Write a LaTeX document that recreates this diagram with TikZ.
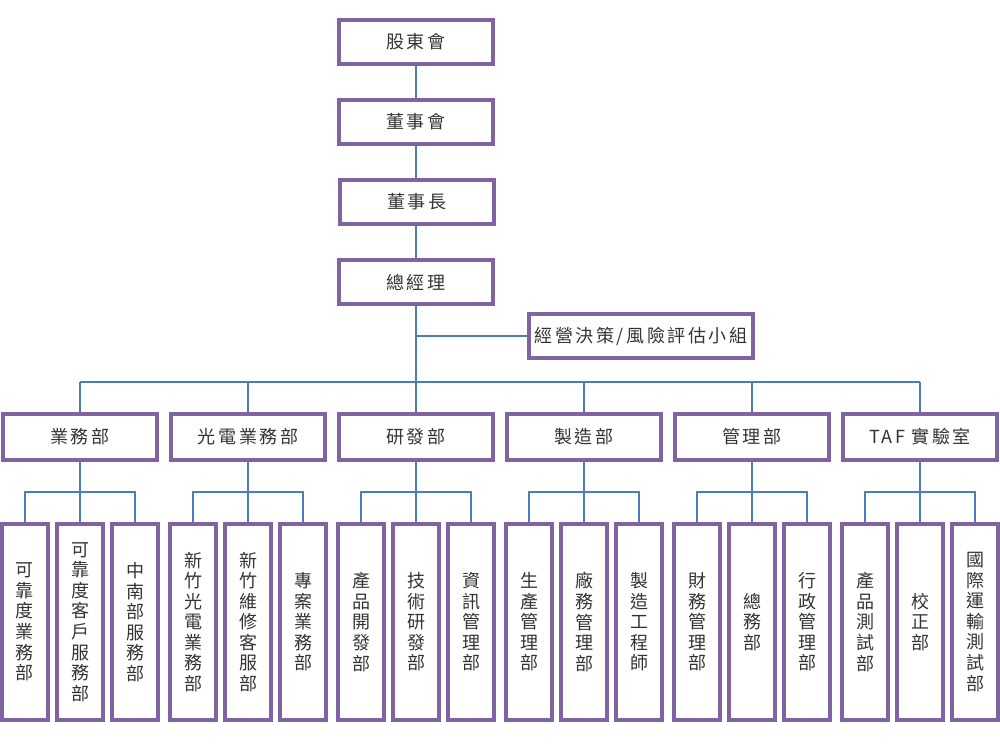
\documentclass[tikz,border=0pt]{standalone}
\usepackage{fontspec}
\setmainfont{Noto Sans CJK TC}[LetterSpace=14]
\definecolor{boxpurple}{HTML}{8064A2}
\definecolor{lineblue}{HTML}{4A7EBB}
\definecolor{textgray}{HTML}{333333}

\begin{document}
\begin{tikzpicture}[x = 0.75pt, y = -0.75pt,
    unit/.style = {draw = boxpurple, line width = 2.8pt, text = textgray, inner sep = 0pt,
      font = \fontsize{13.5}{15.4}\selectfont},
    topbox/.style = {unit, minimum width = 115.5pt, minimum height = 33pt},
    deptbox/.style = {unit, minimum width = 115.5pt, minimum height = 34.5pt},
    subbox/.style = {unit, minimum width = 34pt, minimum height = 147pt, align = center},
    link/.style = {draw = lineblue, line width = 0.8pt}]
          \useasboundingbox (0, 0) rectangle (1000, 750);
          % top of the chart
          \node [topbox] (gudong) at (416, 42) {股東會};
          \node [topbox] (dongshihui) at (416, 122) {董事會};
          \node [topbox] (dongshizhang) at (417, 202) {董事長};
          \node [topbox] (zongjingli) at (416, 282) {總經理};
          \node [topbox, minimum width = 168pt] (xiaozu) at (641, 336) {經營決策/風險評估小組};
          \coordinate (bus) at (416, 382);
          \coordinate (subbus) at (416, 492);
          % departments
          \node [deptbox] (yewu) at (80, 437) {業務部};
          \node [deptbox] (guangdian) at (248, 437) {光電業務部};
          \node [deptbox] (yanfa) at (416, 437) {研發部};
          \node [deptbox] (zhizao) at (584, 437) {製造部};
          \node [deptbox] (guanli) at (752, 437) {管理部};
          \node [deptbox] (taf) at (920, 437) {TAF 實驗室};
          % sections
          \node [subbox] (yewuA) at (25, 622) {可\\靠\\度\\業\\務\\部};
          \node [subbox] (yewuB) at (80, 622) {可\\靠\\度\\客\\戶\\服\\務\\部};
          \node [subbox] (yewuC) at (135, 622) {中\\南\\部\\服\\務\\部};
          \node [subbox] (guangdianA) at (193, 622) {新\\竹\\光\\電\\業\\務\\部};
          \node [subbox] (guangdianB) at (248, 622) {新\\竹\\維\\修\\客\\服\\部};
          \node [subbox] (guangdianC) at (303, 622) {專\\案\\業\\務\\部};
          \node [subbox] (yanfaA) at (361, 622) {產\\品\\開\\發\\部};
          \node [subbox] (yanfaB) at (416, 622) {技\\術\\研\\發\\部};
          \node [subbox] (yanfaC) at (471, 622) {資\\訊\\管\\理\\部};
          \node [subbox] (zhizaoA) at (529, 622) {生\\產\\管\\理\\部};
          \node [subbox] (zhizaoB) at (584, 622) {廠\\務\\管\\理\\部};
          \node [subbox] (zhizaoC) at (639, 622) {製\\造\\工\\程\\師};
          \node [subbox] (guanliA) at (697, 622) {財\\務\\管\\理\\部};
          \node [subbox] (guanliB) at (752, 622) {總\\務\\部};
          \node [subbox] (guanliC) at (807, 622) {行\\政\\管\\理\\部};
          \node [subbox] (tafA) at (865, 622) {產\\品\\測\\試\\部};
          \node [subbox] (tafB) at (920, 622) {校\\正\\部};
          \node [subbox] (tafC) at (975, 622) {國\\際\\運\\輸\\測\\試\\部};
          % connectors
          \draw [link] (gudong.south) -- (gudong.south |- dongshihui.north);
          \draw [link] (dongshihui.south) -- (dongshihui.south |- dongshizhang.north);
          \draw [link] (dongshihui.south |- dongshizhang.south) -- (zongjingli.north);
          \draw [link] (zongjingli.south) -- (bus);
          \draw [link] (zongjingli.south |- xiaozu.west) -- (xiaozu.west);
          \draw [link] (yewu.north |- bus) -- (taf.north |- bus);
          \draw [link] (yewu.north |- bus) -- (yewu.north);
          \draw [link] (guangdian.north |- bus) -- (guangdian.north);
          \draw [link] (yanfa.north |- bus) -- (yanfa.north);
          \draw [link] (zhizao.north |- bus) -- (zhizao.north);
          \draw [link] (guanli.north |- bus) -- (guanli.north);
          \draw [link] (taf.north |- bus) -- (taf.north);
          \draw [link] (yewu.south) -- (yewuB.north) (yewuA.north) |- (yewuC.north |- subbus) -- (yewuC.north);
          \draw [link] (guangdian.south) -- (guangdianB.north) (guangdianA.north) |- (guangdianC.north |- subbus) -- (guangdianC.north);
          \draw [link] (yanfa.south) -- (yanfaB.north) (yanfaA.north) |- (yanfaC.north |- subbus) -- (yanfaC.north);
          \draw [link] (zhizao.south) -- (zhizaoB.north) (zhizaoA.north) |- (zhizaoC.north |- subbus) -- (zhizaoC.north);
          \draw [link] (guanli.south) -- (guanliB.north) (guanliA.north) |- (guanliC.north |- subbus) -- (guanliC.north);
          \draw [link] (taf.south) -- (tafB.north) (tafA.north) |- (tafC.north |- subbus) -- (tafC.north);
        \end{tikzpicture}
\end{document}
